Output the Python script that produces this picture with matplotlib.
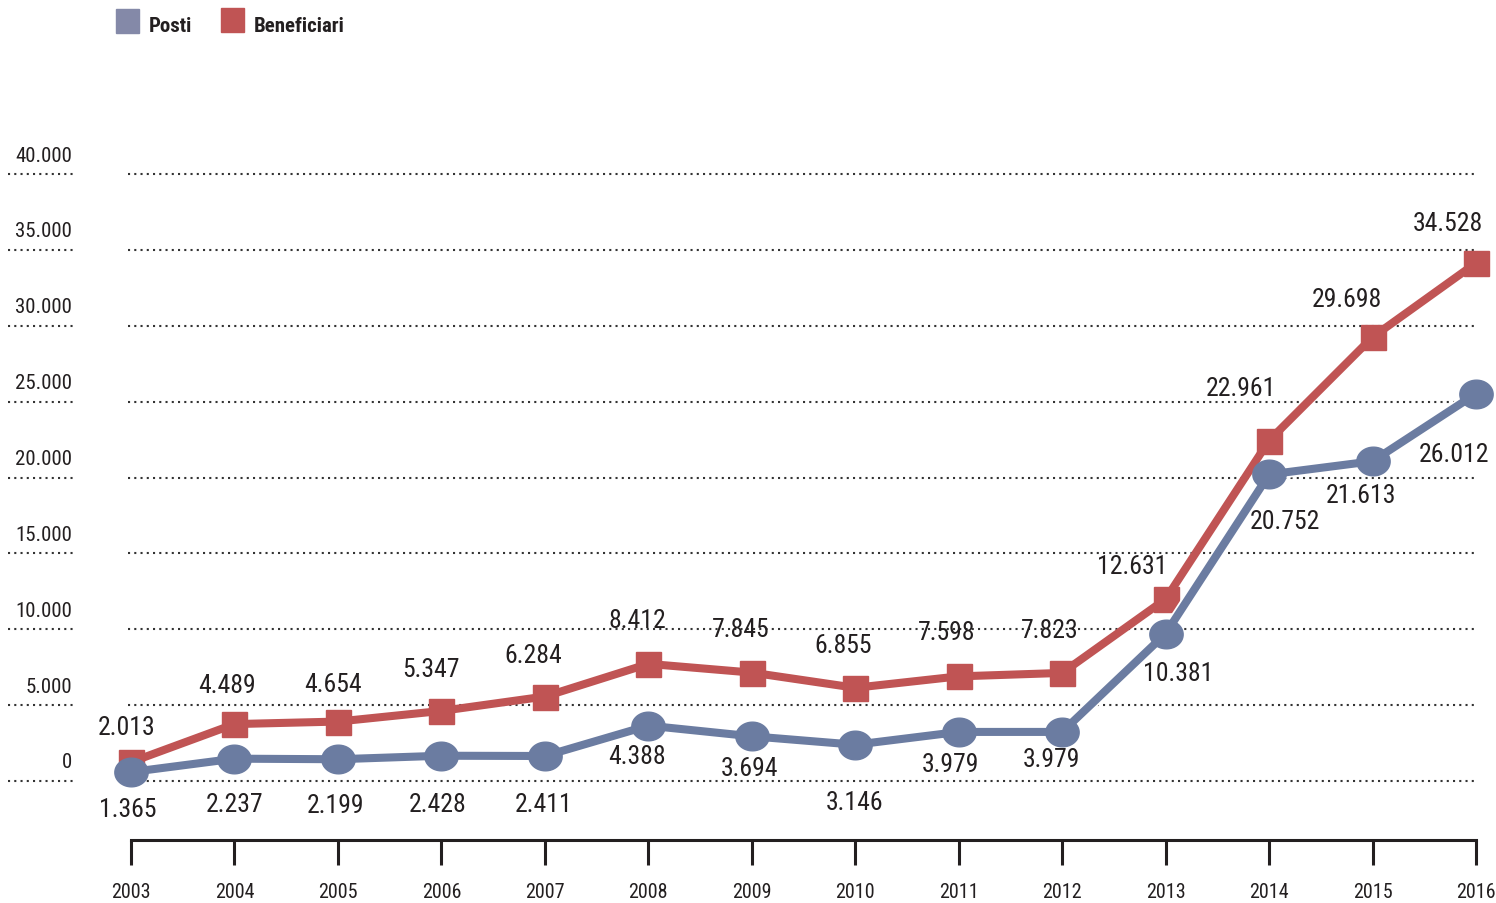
import matplotlib
matplotlib.use("Agg")
import matplotlib.pyplot as plt
import matplotlib.transforms as mtransforms
import matplotlib.patheffects as pe
from matplotlib.path import Path
from matplotlib.patches import Rectangle
from matplotlib import font_manager
import numpy as np

# dati
anni = [2003, 2004, 2005, 2006, 2007, 2008, 2009, 2010, 2011, 2012, 2013, 2014, 2015, 2016]
posti = [1365, 2237, 2199, 2428, 2411, 4388, 3694, 3146, 3979, 3979, 10381, 20752, 21613, 26012]
beneficiari = [2013, 4489, 4654, 5347, 6284, 8412, 7845, 6855, 7598, 7823, 12631, 22961, 29698, 34528]
y_ticks = [0, 5000, 10000, 15000, 20000, 25000, 30000, 35000, 40000]

# spostamento etichette in pixel (dx, dy verso il basso)
off_benef = [(-4, -35), (-7, -39), (-5, -38), (-10, -42), (-12, -42), (-11, -44), (-11, -44),
             (-12, -43), (-12, -44), (-12, -43), (-33, -33), (-28, -53), (-26, -38), (-28, -40)]
off_posti = [(-3, 37), (0, 45), (-2, 46), (-4, 48), (-1, 48), (-11, 30), (-2, 32),
             (-1, 57), (-8, 32), (-11, 27), (13, 39), (16, 47), (-12, 34), (-22, 60)]

names = {f.name for f in font_manager.fontManager.ttflist}
FONT = "DejaVu Sans"
for cand in ["Roboto Condensed", "Archivo Narrow", "Fira Sans Condensed", "Barlow Semi Condensed"]:
    if cand in names:
        FONT = cand
        break
plt.rcParams["font.family"] = [FONT, "DejaVu Sans"]

W, H = 1496, 904
BLU = "#6b7ca1"
ROSSO = "#c05454"
TXT = "#231f20"


def fmt(v):
    return f"{v:,}".replace(",", ".")


def px2pt(p):
    return p * 72 / 100


fig = plt.figure(figsize=(W / 100, H / 100), dpi=100)
ax_g = fig.add_axes([0, 0, 1, 1])
ax = fig.add_axes([0, 0, 1, 1])
for a in (ax_g, ax):
    a.set_axis_off()
ax.patch.set_alpha(0)

step = (1476 - 131) / 13
xlim = (2003 - 131 / step, 2003 + (W - 131) / step)
ax_g.set_xlim(*xlim)
ax.set_xlim(*xlim)
ax_g.set_ylim(-(H - 782) / 0.015175, 782 / 0.015175)
ax.set_ylim(-(H - 794) / 0.01535, 794 / 0.01535)

# griglia punteggiata
tr_g = mtransforms.blended_transform_factory(ax_g.transAxes, ax_g.transData)
for v in y_ticks:
    for x0, x1 in ((8, 75), (128, 1476)):
        ax_g.plot([x0 / W, x1 / W], [v, v], transform=tr_g, color="#333333",
                  lw=1.5, ls=(0, (1, 2)), zorder=1)
    ax_g.annotate(fmt(v), xy=(72 / W, v), xycoords=tr_g, xytext=(0, px2pt(19)),
                  textcoords="offset points", ha="right", va="center",
                  fontsize=15, color=TXT)

# asse x
tr_x = mtransforms.blended_transform_factory(ax_g.transData, ax_g.transAxes)
y_axis = 1 - 841 / H
ax_g.plot([anni[0], anni[-1]], [y_axis, y_axis], transform=tr_x, color=TXT, lw=2.2,
          solid_capstyle="projecting")
ax_g.vlines(anni, 1 - 866 / H, y_axis, transform=tr_x, color=TXT, lw=2.2)
for yr in anni:
    ax_g.text(yr, 1 - 893 / H, str(yr), transform=tr_x, ha="center", va="center",
              fontsize=14.5, color=TXT)

# marker ellittico
t = np.linspace(0, 2 * np.pi, 60)
ellisse = Path(np.column_stack([np.cos(t), 0.86 * np.sin(t)]))

ax.plot(anni, beneficiari, color=ROSSO, lw=5.8, zorder=3, solid_capstyle="butt")
ax.plot(anni, beneficiari, ls="none", marker="s", ms=18, color=ROSSO, zorder=4)
ax.plot(anni, posti, color=BLU, lw=5.8, zorder=5,
        path_effects=[pe.Stroke(linewidth=8.3, foreground="white"), pe.Normal()])
ax.plot(anni, posti, ls="none", marker=ellisse, ms=24, color=BLU, zorder=6)

for yr, v, (dx, dy) in zip(anni, beneficiari, off_benef):
    ax.annotate(fmt(v), xy=(yr, v), xytext=(px2pt(dx), -px2pt(dy)),
                textcoords="offset points", ha="center", va="center",
                fontsize=18.5, color=TXT, zorder=8)
for yr, v, (dx, dy) in zip(anni, posti, off_posti):
    ax.annotate(fmt(v), xy=(yr, v), xytext=(px2pt(dx), -px2pt(dy)),
                textcoords="offset points", ha="center", va="center",
                fontsize=18.5, color=TXT, zorder=8)

# legenda
fig.add_artist(Rectangle((116 / W, 1 - 34 / H), 23 / W, 24 / H, transform=fig.transFigure,
                         color="#8489a8"))
fig.add_artist(Rectangle((221 / W, 1 - 33 / H), 23 / W, 24 / H, transform=fig.transFigure,
                         color=ROSSO))
fig.text(149 / W, 1 - 27 / H, "Posti", ha="left", va="center", fontsize=15,
         fontweight="bold", color=TXT)
fig.text(254 / W, 1 - 27 / H, "Beneficiari", ha="left", va="center", fontsize=15,
         fontweight="bold", color=TXT)

fig.savefig("out.png", dpi=100)
